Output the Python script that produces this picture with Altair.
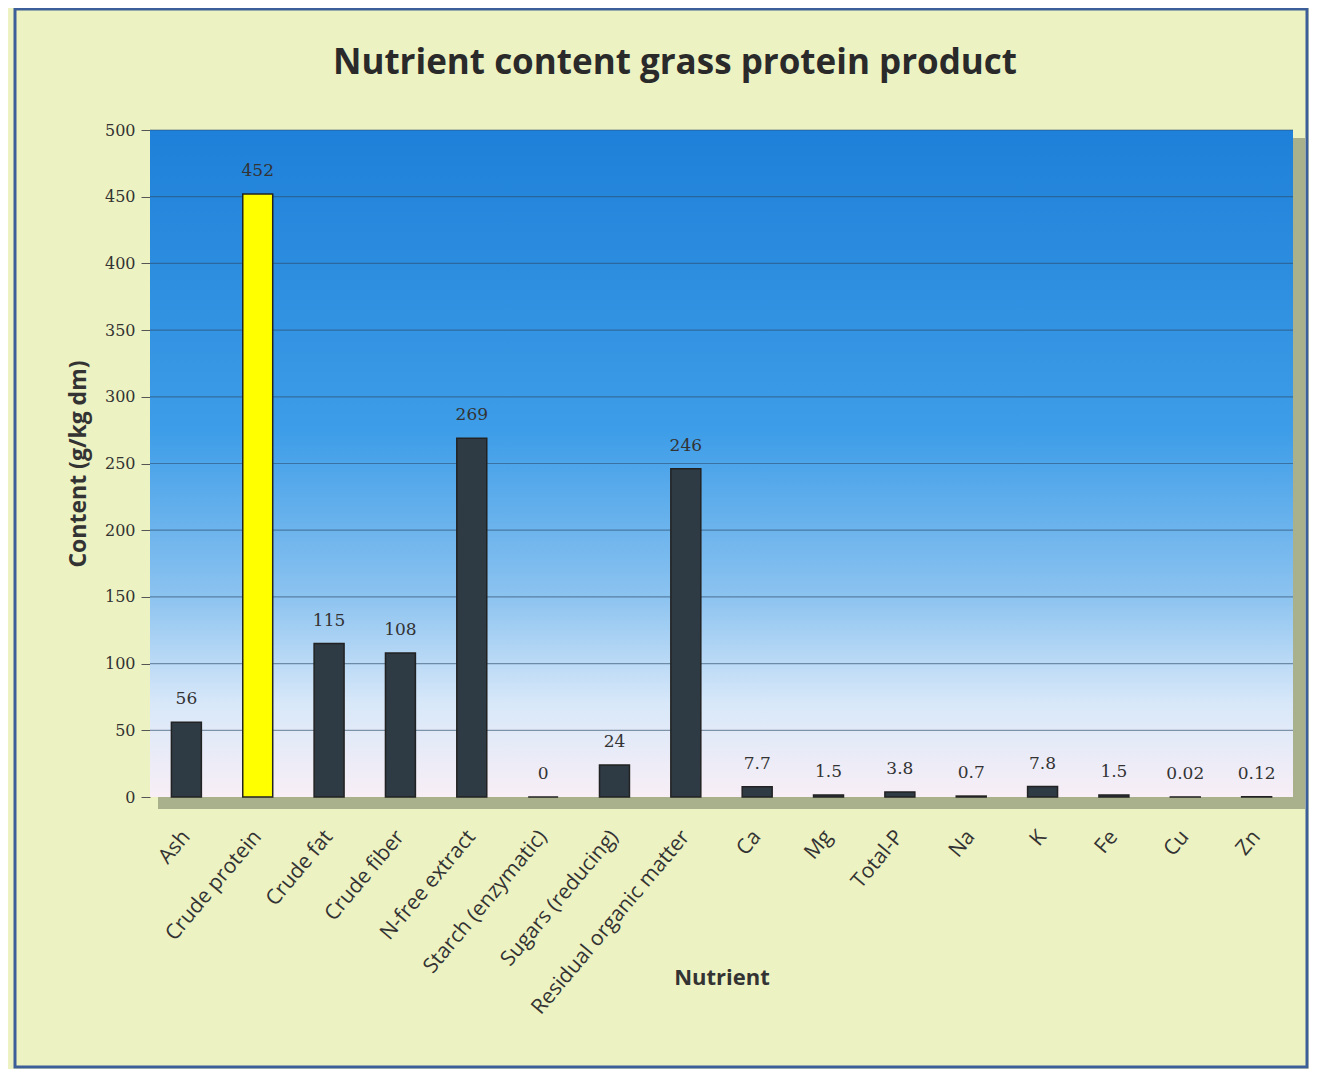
import altair as alt
import pandas as pd

nutrients = ["Ash", "Crude protein", "Crude fat", "Crude fiber", "N-free extract",
             "Starch (enzymatic)", "Sugars (reducing)", "Residual organic matter",
             "Ca", "Mg", "Total-P", "Na", "K", "Fe", "Cu", "Zn"]
values = [56, 452, 115, 108, 269, 0, 24, 246, 7.7, 1.5, 3.8, 0.7, 7.8, 1.5, 0.02, 0.12]
labels = ["56", "452", "115", "108", "269", "0", "24", "246", "7.7", "1.5", "3.8",
          "0.7", "7.8", "1.5", "0.02", "0.12"]
highlight = ["Crude protein"]
y_ticks = [0, 50, 100, 150, 200, 250, 300, 350, 400, 450, 500]
title_text = ["Nutrient content grass protein product"]

df = pd.DataFrame({"Nutrient": nutrients, "Content": values, "Label": labels})
df["hl"] = df["Nutrient"].isin(highlight)
grid_df = pd.DataFrame({"tick": y_ticks[1:]})
title_df = pd.DataFrame({"t": title_text})

W, H = 1143, 667

x_enc = alt.X("Nutrient:N", sort=nutrients, title="Nutrient",
              scale=alt.Scale(paddingInner=0.58, paddingOuter=0.3),
              axis=alt.Axis(labelAngle=-50, labelFontSize=21, labelColor="#333333",
                            labelFont="Open Sans", titleFont="Open Sans", labelLimit=400,
                            titleFontSize=22, titleFontWeight="bold", titleColor="#333333",
                            titleY=170, ticks=False, domain=False, labelPadding=36))
y_enc = alt.Y("Content:Q", title="Content (g/kg dm)",
              scale=alt.Scale(domain=[0, 500]),
              axis=alt.Axis(values=y_ticks, labelFontSize=16, grid=False,
                            labelColor="#333333", labelFont="DejaVu Serif",
                            titleFont="Open Sans", titleFontSize=23, titleFontWeight="bold",
                            titleColor="#333333", titlePadding=14, tickColor="#555555",
                            tickSize=9, domain=False, labelPadding=6))

frame = alt.Chart(title_df).mark_rect(fill=None, stroke="#3c5f9a", strokeWidth=3).encode(
    x=alt.value(-135), x2=alt.value(W + 14), y=alt.value(-121), y2=alt.value(H + 270))

shadow = alt.Chart(title_df).mark_rect(fill="#6f7a60", opacity=0.55).encode(
    x=alt.value(8), x2=alt.value(W + 12), y=alt.value(8), y2=alt.value(H + 12))

grad = alt.Gradient(
    gradient="linear", x1=0, y1=0, x2=0, y2=1,
    stops=[alt.GradientStop(offset=0, color="#1e80d8"),
           alt.GradientStop(offset=0.45, color="#3d9de8"),
           alt.GradientStop(offset=0.7, color="#8cc3f0"),
           alt.GradientStop(offset=0.86, color="#d8e8f9"),
           alt.GradientStop(offset=1, color="#f8eef6")])

bg = alt.Chart(title_df).mark_rect(fill=grad).encode(
    x=alt.value(0), x2=alt.value(W), y=alt.value(0), y2=alt.value(H))

grid = alt.Chart(grid_df).mark_rule(color="#2b4a66", opacity=0.55, strokeWidth=1.2).encode(
    y=alt.Y("tick:Q"))

bars = alt.Chart(df).mark_bar(stroke="#222222", strokeWidth=1.5).encode(
    x=x_enc, y=y_enc,
    color=alt.condition("datum.hl", alt.value("#ffff00"), alt.value("#2e3a44")))

text = alt.Chart(df).mark_text(dy=-14, baseline="bottom", fontSize=17,
                               font="DejaVu Serif", color="#333333").encode(
    x=alt.X("Nutrient:N", sort=nutrients), y="Content:Q", text="Label:N")

title = alt.Chart(title_df).mark_text(fontSize=35, font="Open Sans", fontWeight="bold",
                                      color="#2a2a2a", baseline="middle", align="center").encode(
    x=alt.value(525), y=alt.value(-67), text="t:N")

chart = alt.layer(frame, shadow, bg, grid, bars, text, title).properties(
    width=W, height=H,
    autosize="none",
    padding={"left": 142, "top": 122, "right": 16, "bottom": 272},
    background="#edf2c2",
).configure_view(stroke=None)

chart.save("out.html", embed_options={"renderer": "svg", "actions": False})
